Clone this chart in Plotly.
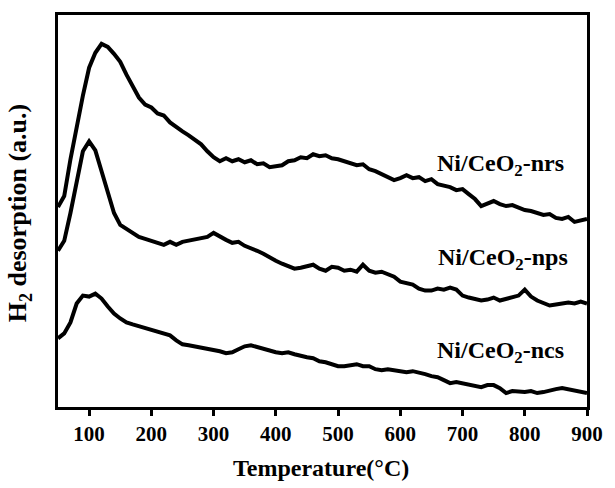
import plotly.graph_objects as go

temperature = list(range(50, 901, 10))

nrs = [194, 205, 242, 276, 306, 334, 349, 358, 355, 348, 340, 327, 315, 304, 297, 294, 288, 286, 279, 274,
       270, 266, 261, 257, 250, 244, 240, 243, 240, 242, 239, 241, 237, 238, 234, 235, 236, 240, 241, 244,
       243, 247, 245, 246, 243, 242, 240, 239, 236, 237, 232, 230, 227, 224, 221, 223, 226, 223, 224, 220,
       222, 217, 216, 214, 211, 212, 207, 202, 195, 197, 200, 197, 195, 196, 193, 191, 190, 188, 186, 187,
       183, 182, 184, 179, 181, 182]

nps = [150, 160, 188, 218, 250, 260, 251, 230, 210, 188, 176, 172, 169, 164, 162, 160, 157, 156, 159, 156,
       159, 160, 161, 163, 164, 168, 164, 161, 158, 159, 155, 153, 150, 147, 143, 140, 137, 134, 132, 133,
       135, 136, 132, 130, 134, 133, 130, 131, 129, 136, 130, 128, 129, 126, 124, 119, 117, 116, 112, 110,
       110, 112, 111, 113, 111, 105, 103, 101, 100, 101, 103, 100, 102, 103, 105, 111, 104, 100, 98, 95,
       96, 97, 98, 97, 99, 97]

ncs = [62, 67, 78, 97, 105, 104, 107, 102, 94, 87, 82, 78, 76, 74, 73, 70, 69, 66, 65, 60,
       56, 55, 54, 53, 51, 50, 49, 47, 48, 51, 54, 55, 53, 51, 50, 48, 47, 48, 46, 45,
       43, 42, 39, 38, 36, 34, 34, 35, 36, 34, 34, 31, 30, 31, 30, 29, 28, 29, 28, 26,
       24, 23, 20, 17, 18, 17, 16, 14, 13, 15, 15, 12, 7, 9, 8, 8, 9, 7, 8, 10,
       11, 12, 11, 9, 8, 7]

series_names = ["Ni/CeO<sub>2</sub>-nrs", "Ni/CeO<sub>2</sub>-nps", "Ni/CeO<sub>2</sub>-ncs"]
label_x = [655, 658, 655]
label_y = [236, 142, 48]
x_ticks = [100, 200, 300, 400, 500, 600, 700, 800, 900]

FONT = "Liberation Serif, Times New Roman, serif"

fig = go.Figure()
for vals, name in zip([nrs, nps, ncs], series_names):
    fig.add_trace(go.Scatter(x=temperature, y=vals, mode="lines", name=name,
                             line=dict(color="black", width=4), showlegend=False))

for name, lx, ly in zip(series_names, label_x, label_y):
    fig.add_annotation(x=lx, y=ly, xref="x", yref="y", text=name, showarrow=False,
                       xanchor="left", yanchor="middle",
                       font=dict(family=FONT, size=24, color="black", weight="bold"))

fig.add_annotation(x=0.497, y=-0.155, xref="paper", yref="paper", text="Temperature(°C)",
                   showarrow=False, xanchor="center", yanchor="middle",
                   font=dict(family=FONT, size=24, color="black", weight="bold"))
fig.add_annotation(x=-0.073, y=0.495, xref="paper", yref="paper", text="H<sub>2</sub> desorption (a.u.)",
                   showarrow=False, xanchor="center", yanchor="middle", textangle=-90,
                   font=dict(family=FONT, size=26, color="black", weight="bold"))

fig.update_layout(
    width=615, height=488,
    margin=dict(l=58, r=20, t=13, b=81),
    paper_bgcolor="white", plot_bgcolor="white",
    xaxis=dict(range=[50, 900], tickvals=x_ticks, ticks="outside", ticklen=6, tickwidth=2.5,
               tickcolor="black", showline=True, linewidth=3, linecolor="black", mirror=True,
               showgrid=False, zeroline=False,
               tickfont=dict(family=FONT, size=21, color="black", weight="bold")),
    yaxis=dict(range=[-7, 387], showticklabels=False, ticks="", showline=True, linewidth=3,
               linecolor="black", mirror=True, showgrid=False, zeroline=False),
)

fig.write_html("out.html")
